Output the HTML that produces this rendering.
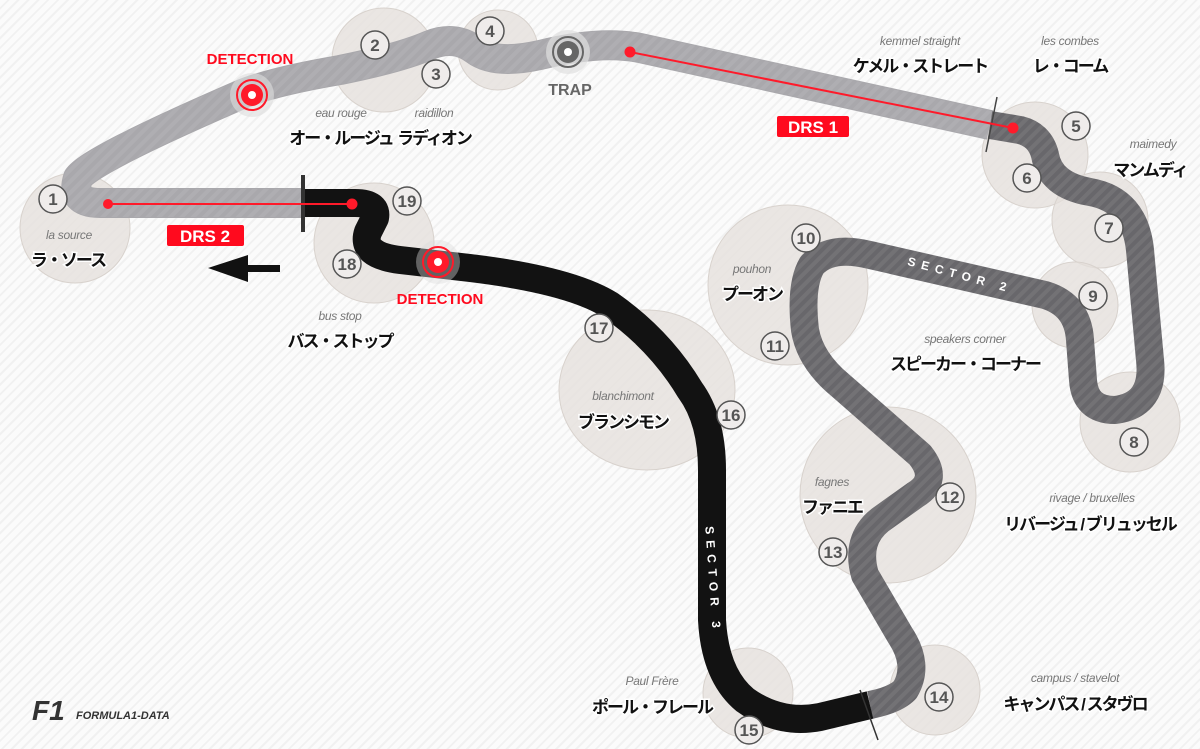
<!DOCTYPE html>
<html><head><meta charset="utf-8">
<style>
html,body{margin:0;padding:0;}
body{width:1200px;height:749px;overflow:hidden;background:#fbfbfb;
background-image:repeating-linear-gradient(135deg,#fbfbfb 0 5px,#f1f1f1 5px 7px);}
svg{position:absolute;left:0;top:0;}
.it{font-family:"Liberation Sans",sans-serif;font-style:italic;font-size:12px;fill:#777;text-anchor:middle;letter-spacing:-0.3px;}
.jp{font-family:"Liberation Sans","Noto Sans CJK JP",sans-serif;font-weight:bold;font-size:17px;fill:#111;text-anchor:middle;stroke:#fff;stroke-width:3px;paint-order:stroke;letter-spacing:-2px;}
.n{font-family:"Liberation Sans",sans-serif;font-weight:bold;font-size:17px;fill:#555;text-anchor:middle;}
.red{font-family:"Liberation Sans",sans-serif;font-weight:bold;font-size:15px;fill:#ff0a1e;text-anchor:middle;}
</style></head><body>
<svg width="1200" height="749" viewBox="0 0 1200 749">
<defs>
<pattern id="st" width="8" height="8" patternUnits="userSpaceOnUse" patternTransform="rotate(45)">
<rect width="4" height="8" fill="rgba(255,255,255,0.07)"/></pattern>
</defs>
<g fill="#e4dfdb" fill-opacity="0.75" stroke="#d8d2cd" stroke-width="1">
<circle cx="75" cy="228" r="55"/>
<circle cx="384" cy="60" r="52"/>
<circle cx="498" cy="50" r="40"/>
<circle cx="1035" cy="155" r="53"/>
<circle cx="1100" cy="220" r="48"/>
<circle cx="1075" cy="305" r="43"/>
<circle cx="1130" cy="422" r="50"/>
<circle cx="788" cy="285" r="80"/>
<circle cx="888" cy="495" r="88"/>
<circle cx="935" cy="690" r="45"/>
<circle cx="748" cy="693" r="45"/>
<ellipse cx="647" cy="390" rx="88" ry="80"/>
<circle cx="374" cy="243" r="60"/>
</g>
<path d="M303,203 L100,203 Q70,203 78,178 Q90,160 240,95 Q270,82 340,70 Q400,58 430,45 Q455,35 475,50 Q495,65 540,55 Q600,40 640,48 L990,125" fill="none" stroke="#a9a8ac" stroke-width="30" stroke-linejoin="round"/>
<path d="M990,125 L1020,130 Q1040,135 1045,155 Q1050,185 1090,192 Q1135,200 1140,250 L1150,360 Q1155,405 1115,410 Q1085,410 1083,380 L1080,340 Q1078,305 1045,295 L870,255 Q830,245 812,265 Q800,285 805,330 Q810,360 840,385 L920,455 Q940,480 915,495 L880,520 Q855,540 865,575 L900,635 Q920,665 905,690 Q895,700 870,705" fill="none" stroke="#68676b" stroke-width="28" stroke-linejoin="round"/>
<path d="M870,705 L820,717 Q780,725 745,700 Q715,675 712,620 L712,470 Q712,420 690,390 Q660,340 610,305 Q570,280 470,268 L400,260 Q360,255 368,232 L375,218 Q378,203 355,203 L303,203" fill="none" stroke="#121212" stroke-width="28" stroke-linejoin="round"/>
<path d="M303,203 L100,203 Q70,203 78,178 Q90,160 240,95 Q270,82 340,70 Q400,58 430,45 Q455,35 475,50 Q495,65 540,55 Q600,40 640,48 L990,125 L1020,130 Q1040,135 1045,155 Q1050,185 1090,192 Q1135,200 1140,250 L1150,360 Q1155,405 1115,410 Q1085,410 1083,380 L1080,340 Q1078,305 1045,295 L870,255 Q830,245 812,265 Q800,285 805,330 Q810,360 840,385 L920,455 Q940,480 915,495 L880,520 Q855,540 865,575 L900,635 Q920,665 905,690 Q895,700 870,705" fill="none" stroke="url(#st)" stroke-width="28"/>
<line x1="303" y1="175" x2="303" y2="232" stroke="#333" stroke-width="4"/>
<line x1="997" y1="97" x2="986" y2="152" stroke="#444" stroke-width="1.5"/>
<line x1="860" y1="690" x2="878" y2="740" stroke="#333" stroke-width="1.5"/>
<g stroke="#ff1a2a" stroke-width="2" fill="#ff1a2a">
<line x1="108" y1="204" x2="352" y2="204"/><circle cx="108" cy="204" r="4"/><circle cx="352" cy="204" r="4.5"/>
<line x1="630" y1="52" x2="1013" y2="128"/><circle cx="630" cy="52" r="4.5"/><circle cx="1013" cy="128" r="4.5"/>
</g>
<rect x="777" y="116" width="72" height="21" rx="2" fill="#ff0a1e"/>
<text x="813" y="133" font-family="Liberation Sans,sans-serif" font-weight="bold" font-size="17" fill="#fff" text-anchor="middle">DRS 1</text>
<rect x="167" y="225" width="77" height="21" rx="2" fill="#ff0a1e"/>
<text x="205" y="242" font-family="Liberation Sans,sans-serif" font-weight="bold" font-size="17" fill="#fff" text-anchor="middle">DRS 2</text>
<polygon points="208,268 248,255 248,265 280,265 280,272 248,272 248,282" fill="#111"/>
<circle cx="252" cy="95" r="22" fill="#ddd" fill-opacity="0.6"/>
<circle cx="252" cy="95" r="15" fill="none" stroke="#ff1a2a" stroke-width="2"/>
<circle cx="252" cy="95" r="11" fill="#ff1a2a"/><circle cx="252" cy="95" r="4" fill="#fff"/>
<circle cx="438" cy="262" r="22" fill="#ddd" fill-opacity="0.4"/>
<circle cx="438" cy="262" r="15" fill="none" stroke="#ff1a2a" stroke-width="2"/>
<circle cx="438" cy="262" r="11" fill="#ff1a2a"/><circle cx="438" cy="262" r="4" fill="#fff"/>
<text class="red" x="250" y="64">DETECTION</text>
<text class="red" x="440" y="304">DETECTION</text>
<circle cx="568" cy="52" r="22" fill="#e0e0e0" fill-opacity="0.7"/>
<circle cx="568" cy="52" r="15" fill="none" stroke="#666" stroke-width="2"/>
<circle cx="568" cy="52" r="11" fill="#666"/><circle cx="568" cy="52" r="4" fill="#fff"/>
<text x="570" y="95" font-family="Liberation Sans,sans-serif" font-weight="bold" font-size="16" fill="#666" text-anchor="middle">TRAP</text>
<text transform="translate(960,275) rotate(15)" font-family="Liberation Sans,sans-serif" font-weight="bold" font-size="12" fill="#fff" letter-spacing="6" text-anchor="middle" dy="4">SECTOR 2</text>
<text transform="translate(713,580) rotate(86)" font-family="Liberation Sans,sans-serif" font-weight="bold" font-size="12" fill="#fff" letter-spacing="6" text-anchor="middle" dy="4">SECTOR 3</text>
<g fill="#efeceb" stroke="#555" stroke-width="1.5">
<circle cx="53" cy="199" r="14"/><circle cx="375" cy="45" r="14"/><circle cx="436" cy="74" r="14"/>
<circle cx="490" cy="31" r="14"/><circle cx="1076" cy="126" r="14"/><circle cx="1027" cy="178" r="14"/>
<circle cx="1109" cy="228" r="14"/><circle cx="1134" cy="442" r="14"/><circle cx="1093" cy="296" r="14"/>
<circle cx="806" cy="238" r="14"/><circle cx="775" cy="346" r="14"/><circle cx="950" cy="497" r="14"/>
<circle cx="833" cy="552" r="14"/><circle cx="939" cy="697" r="14"/><circle cx="749" cy="730" r="14"/>
<circle cx="731" cy="415" r="14"/><circle cx="599" cy="328" r="14"/><circle cx="347" cy="264" r="14"/>
<circle cx="407" cy="201" r="14"/>
</g>
<g>
<text x="53" y="205" class="n">1</text><text x="375" y="51" class="n">2</text><text x="436" y="80" class="n">3</text>
<text x="490" y="37" class="n">4</text><text x="1076" y="132" class="n">5</text><text x="1027" y="184" class="n">6</text>
<text x="1109" y="234" class="n">7</text><text x="1134" y="448" class="n">8</text><text x="1093" y="302" class="n">9</text>
<text x="806" y="244" class="n">10</text><text x="775" y="352" class="n">11</text><text x="950" y="503" class="n">12</text>
<text x="833" y="558" class="n">13</text><text x="939" y="703" class="n">14</text><text x="749" y="736" class="n">15</text>
<text x="731" y="421" class="n">16</text><text x="599" y="334" class="n">17</text><text x="347" y="270" class="n">18</text>
<text x="407" y="207" class="n">19</text>
</g>
<text class="it" x="69" y="239">la source</text><text class="jp" x="68" y="266">ラ・ソース</text>
<text class="it" x="341" y="117">eau rouge</text><text class="jp" x="341" y="144">オー・ルージュ</text>
<text class="it" x="434" y="117">raidillon</text><text class="jp" x="434" y="144">ラディオン</text>
<text class="it" x="920" y="45">kemmel straight</text><text class="jp" x="920" y="72">ケメル・ストレート</text>
<text class="it" x="1070" y="45">les combes</text><text class="jp" x="1070" y="72">レ・コーム</text>
<text class="it" x="1153" y="148">maimedy</text><text class="jp" x="1150" y="176">マンムディ</text>
<text class="it" x="965" y="343">speakers corner</text><text class="jp" x="965" y="370">スピーカー・コーナー</text>
<text class="it" x="752" y="273">pouhon</text><text class="jp" x="752" y="300">プーオン</text>
<text class="it" x="832" y="486">fagnes</text><text class="jp" x="832" y="513">ファニエ</text>
<text class="it" x="1092" y="502">rivage / bruxelles</text><text class="jp" x="1090" y="530">リバージュ / ブリュッセル</text>
<text class="it" x="1075" y="682">campus / stavelot</text><text class="jp" x="1075" y="710">キャンパス / スタヴロ</text>
<text class="it" x="623" y="400">blanchimont</text><text class="jp" x="623" y="428">ブランシモン</text>
<text class="it" x="340" y="320">bus stop</text><text class="jp" x="340" y="347">バス・ストップ</text>
<text class="it" x="652" y="685">Paul Frère</text><text class="jp" x="652" y="713">ポール・フレール</text>
<text x="32" y="720" font-family="Liberation Sans,sans-serif" font-weight="bold" font-style="italic" font-size="28" fill="#333">F1</text>
<text x="76" y="719" font-family="Liberation Sans,sans-serif" font-weight="bold" font-style="italic" font-size="11" fill="#333">FORMULA1-DATA</text>
</svg>
</body></html>
